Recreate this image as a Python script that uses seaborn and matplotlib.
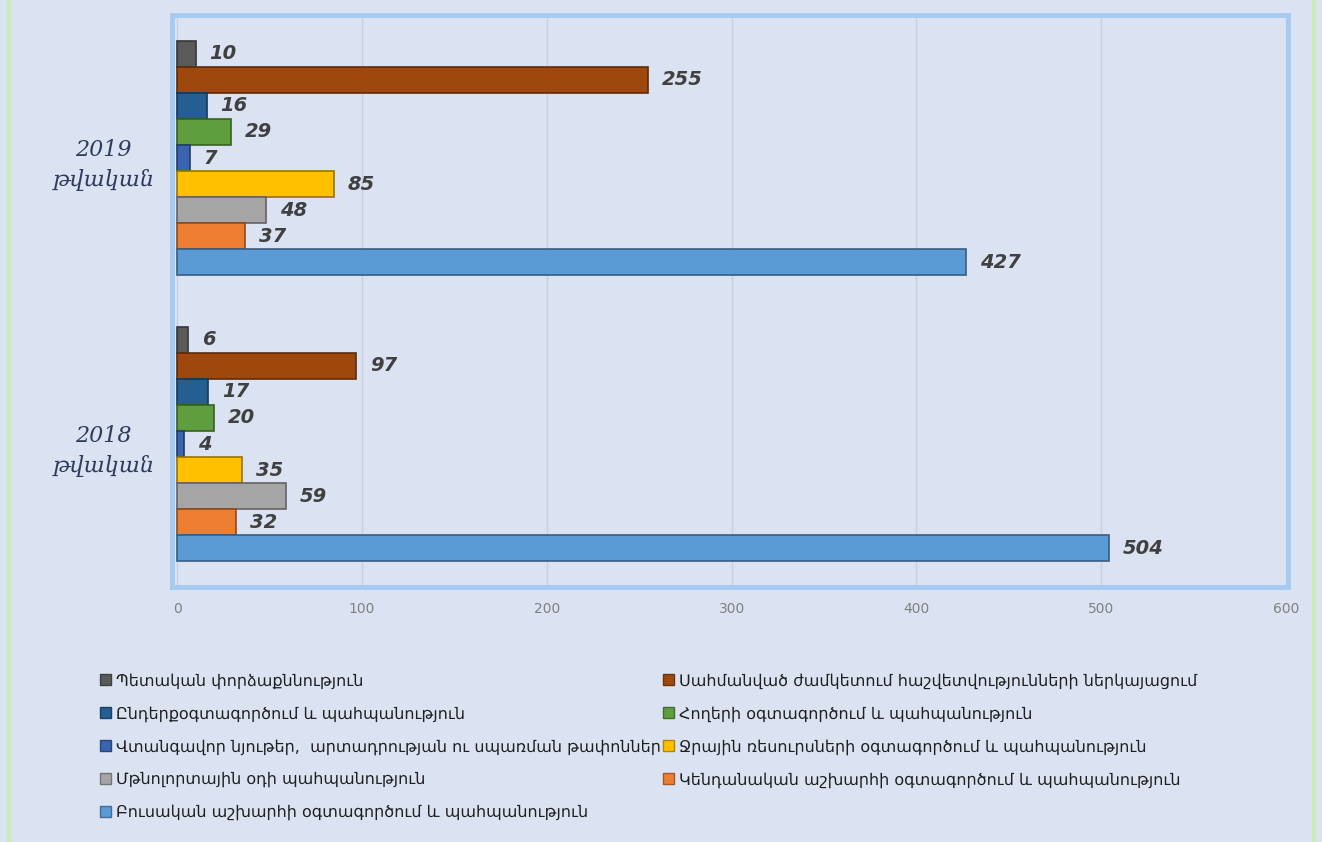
import matplotlib
matplotlib.use("Agg")
import matplotlib.pyplot as plt
import seaborn as sns
import pandas as pd
from matplotlib.lines import Line2D
from matplotlib.patches import Patch
import matplotlib.colors as mcolors

# ---- data ----
years = ["2019\nթվական", "2018\nթվական"]
categories = [
    "Պետական փորձաքննություն",
    "Սահմանված ժամկետում հաշվետվությունների ներկայացում",
    "Ընդերքօգտագործում և պահպանություն",
    "Հողերի օգտագործում և պահպանություն",
    "Վտանգավոր նյութեր,  արտադրության ու սպառման թափոններ",
    "Ջրային ռեսուրսների օգտագործում և պահպանություն",
    "Մթնոլորտային օդի պահպանություն",
    "Կենդանական աշխարհի օգտագործում և պահպանություն",
    "Բուսական աշխարհի օգտագործում և պահպանություն",
]
values_2019 = [10, 255, 16, 29, 7, 85, 48, 37, 427]
values_2018 = [6, 97, 17, 20, 4, 35, 59, 32, 504]
colors = ["#5a5a5a", "#9e480e", "#255e91", "#5e9e3e", "#3a64b0",
          "#ffc000", "#a5a5a5", "#ed7d31", "#5b9bd5"]
x_ticks = [0, 100, 200, 300, 400, 500, 600]

rows = []
for c, v in zip(categories, values_2019):
    rows.append({"year": years[0], "category": c, "value": v})
for c, v in zip(categories, values_2018):
    rows.append({"year": years[1], "category": c, "value": v})
df = pd.DataFrame(rows)

bg = "#dbe3f3"
W, H = 1322, 842
fig = plt.figure(figsize=(W / 100, H / 100), dpi=100, facecolor=bg)
ax = fig.add_axes([171.5 / W, 1 - 587 / H, (1288 - 171.5) / W, (587 - 15) / H])
ax.set_facecolor(bg)

palette = dict(zip(categories, colors))
sns.barplot(data=df, y="year", x="value", hue="category", order=years,
            hue_order=categories, palette=palette, orient="h",
            width=0.82, gap=0, saturation=1, legend=False, ax=ax)

# bevel-like edge
for cont, col in zip(ax.containers, colors):
    dark = tuple(v * 0.6 for v in mcolors.to_rgb(col))
    for p in cont:
        p.set_edgecolor(dark)
        p.set_linewidth(1.2)
    ax.bar_label(cont, fmt="%d", padding=10, fontsize=14, fontweight="bold",
                 fontstyle="italic", color="#404040")

ax.set_xlim(-3, 601)
ax.set_xticks(x_ticks)
ax.set_xticklabels([str(t) for t in x_ticks])
ax.tick_params(axis="x", length=0, pad=11, labelsize=10, labelcolor="#808080")
ax.tick_params(axis="y", length=0, pad=12)
for lab in ax.get_yticklabels():
    lab.set_family(["DejaVu Serif", "DejaVu Sans"])
    lab.set_fontstyle("italic")
    lab.set_fontsize(16)
    lab.set_color("#2f3d5c")
    lab.set_multialignment("center")
    lab.set_linespacing(1.5)
ax.set_xlabel("")
ax.set_ylabel("")
ax.grid(axis="x", color="#c9ced8", linewidth=1)
ax.set_axisbelow(True)
for s in ax.spines.values():
    s.set_color("#a6cbf3")
    s.set_linewidth(3.5)

# legend (row-major order in two columns)
handles = [Patch(facecolor=c, edgecolor=tuple(v * 0.7 for v in mcolors.to_rgb(c)))
           for c in colors]
left_idx = [0, 2, 4, 6, 8]
right_idx = [1, 3, 5, 7]
leg_kw = dict(frameon=False, fontsize=11.5, handlelength=0.7, handleheight=0.7,
              handletextpad=0.3, labelspacing=1.08, borderaxespad=0, borderpad=0,
              labelcolor="#1f1f1f")
fig.legend([handles[i] for i in left_idx], [categories[i] for i in left_idx],
           loc="upper left", bbox_to_anchor=(100 / W, 1 - 673 / H), **leg_kw)
fig.legend([handles[i] for i in right_idx], [categories[i] for i in right_idx],
           loc="upper left", bbox_to_anchor=(663 / W, 1 - 673 / H), **leg_kw)

# outer green frame lines
fig.add_artist(Line2D([9 / W, 9 / W], [0, 1], color="#c8ecb2", linewidth=3,
                      transform=fig.transFigure))
fig.add_artist(Line2D([1314 / W, 1314 / W], [0, 1], color="#c8ecb2", linewidth=3,
                      transform=fig.transFigure))

fig.savefig("out.png", dpi=100, facecolor=bg)
